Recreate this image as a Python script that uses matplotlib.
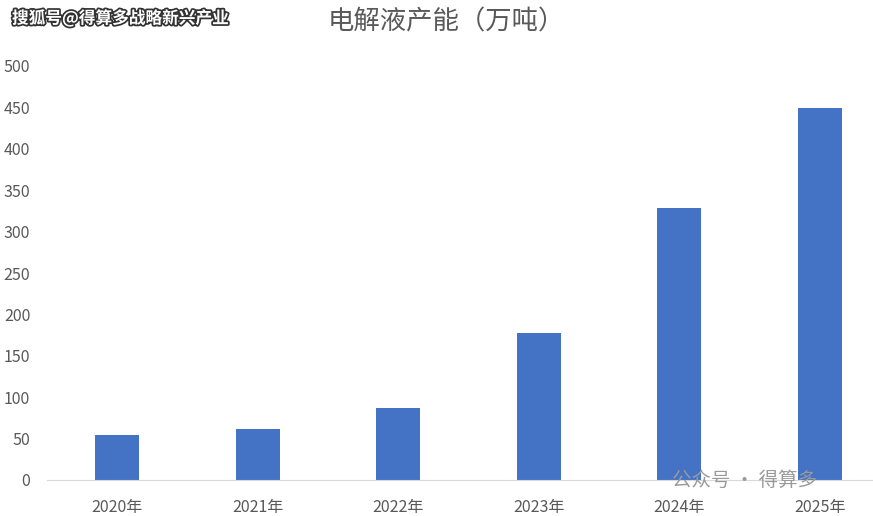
import matplotlib
matplotlib.use("Agg")
import matplotlib.pyplot as plt
import matplotlib.patheffects as pe

plt.rcParams['font.family'] = ['Noto Sans CJK SC', 'DejaVu Sans']

years = ["2020年", "2021年", "2022年", "2023年", "2024年", "2025年"]
capacity = [54, 62, 87, 178, 328, 449]
yticks = [0, 50, 100, 150, 200, 250, 300, 350, 400, 450, 500]

W, H = 873, 516
fig = plt.figure(figsize=(W/100, H/100), dpi=100)
ax = fig.add_axes([47/W, 36/H, 843/W, 414/H])
x = list(range(len(years)))
ax.bar(x, capacity, width=0.31, color='#4472C4')
ax.set_xlim(-0.5, len(years)-0.5)
ax.set_ylim(0, 500)
ax.set_yticks(yticks)
ax.set_xticks(x)
ax.set_xticklabels(years)
for s in ['top', 'right', 'left']:
    ax.spines[s].set_visible(False)
ax.spines['bottom'].set_color('#D9D9D9')
ax.tick_params(axis='both', length=0, colors='#595959', labelsize=11.5)
ax.tick_params(axis='y', pad=12)
ax.tick_params(axis='x', pad=14)

fig.text(446/W, 1-22/H, "电解液产能（万吨）", ha='center', va='center',
         fontsize=19, color='#595959')
fig.text(12/W, 1-18/H, "搜狐号@得算多战略新兴产业", ha='left', va='center',
         fontsize=12, color='white', fontweight='bold',
         path_effects=[pe.withStroke(linewidth=2.5, foreground='#333333')])
fig.text(672/W, 1-480/H, "公众号 · 得算多", ha='left', va='center',
         fontsize=14, color='#9a9a9a')

fig.savefig("out.png", dpi=100)
